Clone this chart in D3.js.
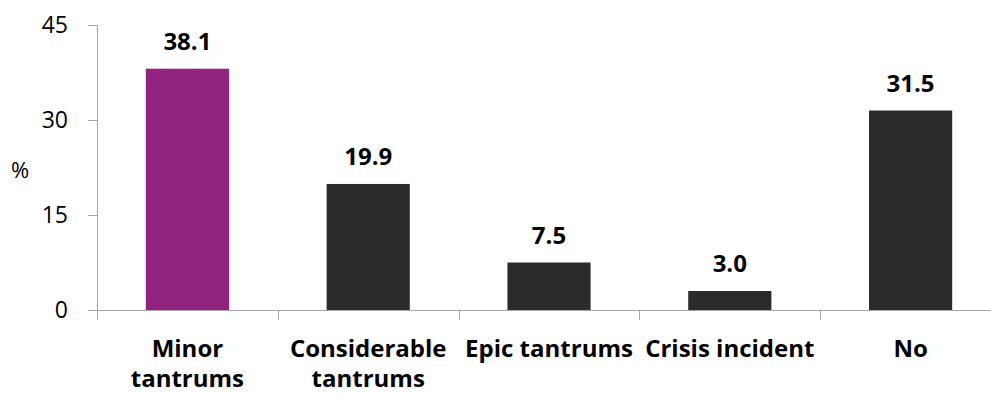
<!DOCTYPE html>
<html><head><meta charset="utf-8">
<script src="https://cdn.jsdelivr.net/npm/d3@7"></script>
<style>body{margin:0;background:#fff}svg{display:block}text{font-family:"Open Sans",sans-serif}</style>
</head><body><svg id="c" width="991" height="394"></svg>
<script>
const categories = [["Minor","tantrums"],["Considerable","tantrums"],["Epic tantrums"],["Crisis incident"],["No"]];
const values = [38.1, 19.9, 7.5, 3.0, 31.5];
const colors = ["#92237F","#2B2B2B","#2B2B2B","#2B2B2B","#2B2B2B"];
const yTicks = [0, 15, 30, 45];

const svg = d3.select("#c");
const x0 = 97, x1 = 1001, yTop = 25, yBot = 310;
const x = d3.scaleBand().domain(d3.range(values.length)).range([x0, x1]).paddingInner(0.54).paddingOuter(0.27);
const y = d3.scaleLinear().domain([0, 45]).range([yBot, yTop]);
const axisColor = "#A6A6A6";

const ya = svg.append("g").attr("transform", `translate(${x0},0)`)
  .call(d3.axisLeft(y).tickValues(yTicks).tickSize(9).tickPadding(20).tickFormat(d3.format("d")));
ya.select(".domain").attr("stroke", axisColor);
ya.selectAll(".tick line").attr("stroke", axisColor);
ya.selectAll("text").attr("font-size", 23).attr("fill", "#000").style("font-family", "'Open Sans',sans-serif");

svg.append("text").attr("x", 20).attr("y", 178).attr("text-anchor", "middle").attr("font-size", 22).text("%");

svg.selectAll("rect.bar").data(values).join("rect").attr("class","bar")
  .attr("x", (d,i) => x(i)).attr("width", x.bandwidth())
  .attr("y", d => y(d)).attr("height", d => yBot - y(d))
  .attr("fill", (d,i) => colors[i]);

svg.append("line").attr("x1", x0).attr("x2", x1).attr("y1", yBot+0.5).attr("y2", yBot+0.5).attr("stroke", axisColor);
const bounds = d3.range(values.length + 1).map(i => x0 + i * (x1 - x0) / values.length);
svg.selectAll("line.xt").data(bounds).join("line").attr("class","xt")
  .attr("x1", d => Math.round(d)+0.5).attr("x2", d => Math.round(d)+0.5)
  .attr("y1", yBot).attr("y2", yBot + 10).attr("stroke", axisColor);

svg.selectAll("text.val").data(values).join("text").attr("class","val")
  .attr("x", (d,i) => x(i) + x.bandwidth()/2).attr("y", d => y(d) - 19)
  .attr("text-anchor", "middle").attr("font-size", 24).attr("font-weight", "bold")
  .text(d => d.toFixed(1));

const cl = svg.selectAll("text.cat").data(categories).join("text").attr("class","cat")
  .attr("text-anchor", "middle").attr("font-size", 24).attr("font-weight", "bold")
  .attr("transform", (d,i) => `translate(${x(i) + x.bandwidth()/2},357)`);
cl.selectAll("tspan").data(d => d).join("tspan").attr("x", 0).attr("dy", (d,j) => j === 0 ? 0 : 30).text(d => d);
</script></body></html>
